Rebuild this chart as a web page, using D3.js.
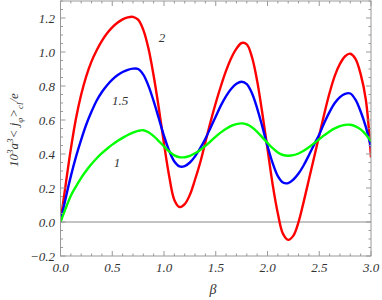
<!doctype html>
<html>
<head>
<meta charset="utf-8">
<title></title>
<style>
body{ margin:0; background:#fff; }
text{ font-family:"Liberation Serif","DejaVu Serif",serif; font-style:italic; }
</style>
</head>
<body>
<svg></svg>
<script src="https://cdn.jsdelivr.net/npm/d3@7"></script>
<script>
var width = 382;
var height = 300;

// beta sampled every 0.05
var beta = d3.range(0, 61).map(function(i){ return +(i*0.05).toFixed(2); });

var red2 = [0, 0.22, 0.43, 0.61, 0.75, 0.86, 0.945, 1.01, 1.065, 1.11,
  1.145, 1.172, 1.192, 1.204, 1.207, 1.19, 1.13, 1.02, 0.86, 0.67,
  0.46, 0.27, 0.13, 0.088, 0.105, 0.16, 0.25, 0.35, 0.47, 0.59,
  0.70, 0.80, 0.89, 0.965, 1.02, 1.053, 1.045, 0.97, 0.83, 0.64,
  0.43, 0.22, 0.05, -0.07, -0.105, -0.08, 0.00, 0.12, 0.25, 0.38,
  0.51, 0.64, 0.76, 0.86, 0.93, 0.975, 0.99, 0.96, 0.87, 0.72,
  0.38];
var blue15 = [0, 0.14, 0.27, 0.385, 0.485, 0.575, 0.65, 0.715, 0.765, 0.805,
  0.838, 0.863, 0.882, 0.895, 0.902, 0.9, 0.867, 0.801, 0.711, 0.609,
  0.507, 0.419, 0.356, 0.327, 0.329, 0.35, 0.386, 0.435, 0.49, 0.555,
  0.62, 0.686, 0.741, 0.784, 0.813, 0.825, 0.811, 0.757, 0.669, 0.561,
  0.447, 0.346, 0.27, 0.232, 0.229, 0.25, 0.285, 0.334, 0.393, 0.455,
  0.515, 0.585, 0.648, 0.7, 0.735, 0.754, 0.756, 0.72, 0.65, 0.56,
  0.44];
var green1 = [0, 0.08, 0.155, 0.21, 0.26, 0.303, 0.341, 0.375, 0.405, 0.431,
  0.455, 0.476, 0.495, 0.512, 0.526, 0.536, 0.54, 0.528, 0.505, 0.476,
  0.444, 0.415, 0.392, 0.381, 0.381, 0.389, 0.404, 0.424, 0.448, 0.475,
  0.502, 0.527, 0.549, 0.566, 0.576, 0.58, 0.574, 0.557, 0.53, 0.498,
  0.465, 0.434, 0.409, 0.394, 0.39, 0.393, 0.403, 0.419, 0.44, 0.463,
  0.487, 0.511, 0.533, 0.551, 0.564, 0.571, 0.572, 0.563, 0.545, 0.515,
  0.475];

var series = [
  {name: "2",   values: red2,   color: "#ff0000", lx: 162, ly: 37},
  {name: "1.5", values: blue15, color: "#0000ff", lx: 120, ly: 100},
  {name: "1",   values: green1, color: "#00ff00", lx: 117, ly: 162}
];

var xTicks = [0, 0.5, 1.0, 1.5, 2.0, 2.5, 3.0];
var yTicks = [-0.2, 0, 0.2, 0.4, 0.6, 0.8, 1.0, 1.2];

var svg = d3.select('svg').attr('width', width).attr('height', height);

var x = d3.scaleLinear().domain([0, 3]).range([60.5, 371]);
var y = d3.scaleLinear().domain([-0.2, 1.3]).range([256, 1]);

var frameColor = "#999";

// zero axis
svg.append("line")
  .attr("x1", x(0)).attr("x2", x(3))
  .attr("y1", y(0)).attr("y2", y(0))
  .attr("stroke", "#888").attr("stroke-width", 1);

// curves
var line = d3.line()
  .x(function(d, i){ return x(beta[i]); })
  .y(function(d){ return y(d); })
  .curve(d3.curveCatmullRom.alpha(0.5));

svg.append("clipPath").attr("id", "clip")
  .append("rect").attr("x", x(0)).attr("y", y(1.3)).attr("width", x(3)-x(0)).attr("height", y(-0.2)-y(1.3));

svg.append("g").attr("clip-path", "url(#clip)")
  .selectAll("path")
  .data(series)
  .enter()
  .append("path")
  .attr("fill", "none")
  .attr("stroke", function(d){ return d.color; })
  .attr("stroke-width", 2.4)
  .attr("d", function(d){ return line(d.values); });

// frame
svg.append("rect")
  .attr("x", x(0)).attr("y", y(1.3))
  .attr("width", x(3)-x(0)).attr("height", y(-0.2)-y(1.3))
  .attr("fill", "none").attr("stroke", frameColor).attr("stroke-width", 1);

// ticks: major + minor on all four sides, inward
var xMinor = d3.range(0, 31).map(function(i){ return i/10; });
var yMinor = d3.range(-4, 27).map(function(i){ return i*0.05; });
var tg = svg.append("g").attr("stroke", frameColor).attr("stroke-width", 1);

xMinor.forEach(function(t){
  var major = Math.abs(t*2 - Math.round(t*2)) < 1e-6;
  var len = major ? 5 : 2.5;
  tg.append("line").attr("x1", x(t)).attr("x2", x(t)).attr("y1", y(-0.2)).attr("y2", y(-0.2)-len);
  tg.append("line").attr("x1", x(t)).attr("x2", x(t)).attr("y1", y(1.3)).attr("y2", y(1.3)+len);
});
yMinor.forEach(function(t){
  var major = Math.abs(t*5 - Math.round(t*5)) < 1e-6;
  var len = major ? 5 : 2.5;
  tg.append("line").attr("x1", x(0)).attr("x2", x(0)+len).attr("y1", y(t)).attr("y2", y(t));
  tg.append("line").attr("x1", x(3)).attr("x2", x(3)-len).attr("y1", y(t)).attr("y2", y(t));
});

// tick labels
svg.selectAll(".xl").data(xTicks).enter().append("text")
  .attr("x", function(d){ return x(d); })
  .attr("y", 272)
  .attr("text-anchor", "middle")
  .style("font-size", "13px").attr("fill", "#333")
  .text(function(d){ return d.toFixed(1); });

svg.selectAll(".yl").data(yTicks).enter().append("text")
  .attr("x", 55)
  .attr("y", function(d){ return y(d) + 4.5; })
  .attr("text-anchor", "end")
  .style("font-size", "13px").attr("fill", "#333")
  .text(function(d){ return d < 0 ? "\u2212" + (-d).toFixed(1) : d.toFixed(1); });

// curve labels
svg.selectAll(".cl").data(series).enter().append("text")
  .attr("x", function(d){ return d.lx; })
  .attr("y", function(d){ return d.ly + 4.5; })
  .attr("text-anchor", "middle")
  .style("font-size", "13px").attr("fill", "#333")
  .text(function(d){ return d.name; });

// axis titles
svg.append("text")
  .attr("x", 213).attr("y", 294)
  .attr("text-anchor", "middle")
  .style("font-size", "14px").attr("fill", "#333")
  .text("\u03b2");

var yl = svg.append("text")
  .attr("transform", "translate(18,130) rotate(-90)")
  .attr("text-anchor", "middle")
  .style("font-size", "13px").attr("fill", "#333");
yl.append("tspan").text("10");
yl.append("tspan").attr("baseline-shift", "super").style("font-size", "9px").text("3");
yl.append("tspan").text("a");
yl.append("tspan").attr("baseline-shift", "super").style("font-size", "9px").text("3");
yl.append("tspan").text("< j");
yl.append("tspan").attr("baseline-shift", "sub").style("font-size", "9px").text("\u03c6");
yl.append("tspan").text(">");
yl.append("tspan").attr("baseline-shift", "sub").style("font-size", "9px").text("cl");
yl.append("tspan").text("/e");
</script>
</body>
</html>
